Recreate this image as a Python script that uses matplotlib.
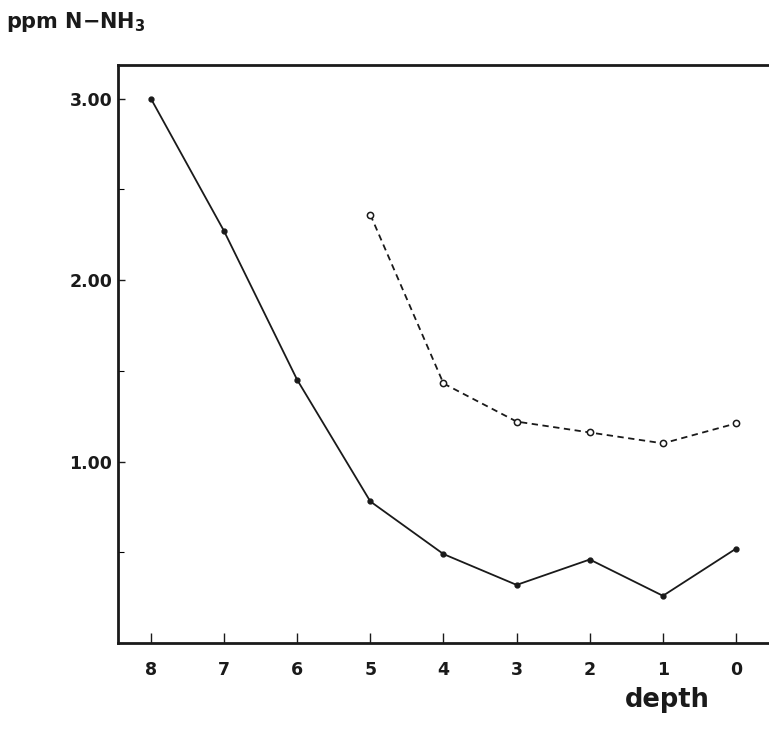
import numpy as np
import matplotlib.pyplot as plt
from matplotlib.ticker import MultipleLocator

# depth stations (x axis runs from 8 down to 0)
depth = [8, 7, 6, 5, 4, 3, 2, 1, 0]
nh3_solid = [3.00, 2.27, 1.45, 0.78, 0.49, 0.32, 0.46, 0.26, 0.52]

depth_dashed = [5, 4, 3, 2, 1, 0]
nh3_dashed = [2.36, 1.43, 1.22, 1.16, 1.10, 1.21]

y_ticks = [1.0, 2.0, 3.0]
y_tick_labels = ["1.00", "2.00", "3.00"]

ink = "#1a1a1a"
plt.rcParams["mathtext.fontset"] = "dejavusans"

fig = plt.figure(figsize=(7.69, 7.31), dpi=100)
ax = fig.add_axes([0.1534, 0.1204, 0.8466, 0.7907])

ax.plot(depth, nh3_solid, color=ink, lw=1.3, marker="o", ms=3.5,
        mfc=ink, mec=ink)
ax.plot(depth_dashed, nh3_dashed, color=ink, lw=1.3, dashes=(3.5, 2.5),
        marker="o", ms=4.5, mfc="white", mec=ink, mew=1.1)

ax.set_xlim(8.45, -0.45)
ax.set_ylim(0, 3.185)

ax.set_xticks(depth)
ax.set_xticklabels([str(d) for d in depth])
ax.set_yticks(y_ticks)
ax.set_yticklabels(y_tick_labels)
ax.yaxis.set_minor_locator(MultipleLocator(0.5))

ax.tick_params(axis="x", direction="in", length=7, width=1.0, pad=13,
               labelsize=12.5, colors=ink)
ax.tick_params(axis="y", which="major", direction="in", length=5, width=1.0,
               pad=4, labelsize=12.5, colors=ink)
ax.tick_params(axis="y", which="minor", direction="in", length=4, width=0.8)
for lbl in ax.get_xticklabels() + ax.get_yticklabels():
    lbl.set_fontweight("semibold")

for side in ("left", "bottom", "top"):
    ax.spines[side].set_linewidth(2.0)
    ax.spines[side].set_color(ink)
ax.spines["right"].set_visible(False)

fig.text(667 / 769, 1 - 700 / 731, "depth", ha="center", va="center",
         fontsize=18.5, fontweight="bold", color=ink)
fig.text(6 / 769, 1 - 22 / 731, r"ppm N$\mathbf{-}$NH$_\mathbf{3}$",
         ha="left", va="center", fontsize=15, fontweight="bold", color=ink)

fig.savefig("out.png", dpi=100, facecolor="white")
